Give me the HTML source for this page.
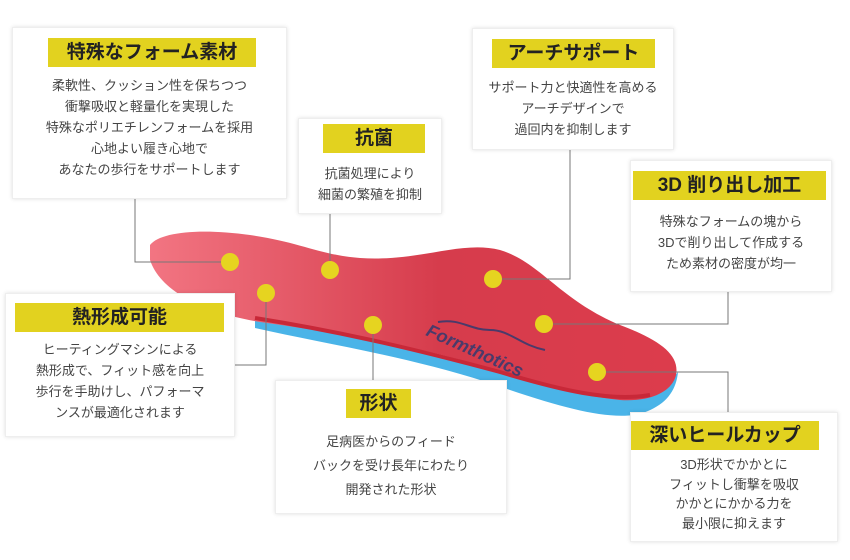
<!DOCTYPE html>
<html><head><meta charset="utf-8"><style>
body{margin:0;width:850px;height:560px;background:#fff;position:relative;overflow:hidden;font-family:"Liberation Sans","Noto Sans CJK JP",sans-serif;color:#333}
.card{position:absolute;background:#fff;border:1px solid #eee;box-shadow:0 0 4px rgba(0,0,0,0.12);text-align:center}
.lab{position:absolute;background:#e2d21f;font-weight:bold;font-size:19px;color:#222;text-align:center;line-height:29px;white-space:nowrap}
.txt{position:absolute;left:0;right:0;font-size:13px;line-height:21px;color:#444;white-space:nowrap}
svg{position:absolute;left:0;top:0}
</style></head><body>
<svg width="850" height="560">
<defs>
<linearGradient id="r" x1="0" y1="0" x2="1" y2="0"><stop offset="0" stop-color="#f27582"/><stop offset="0.55" stop-color="#d63c4c"/><stop offset="1" stop-color="#dc3c4c"/></linearGradient>
</defs>
<path d="M255,328 C330,345 420,358 510,390 C570,410 610,420 640,414 C665,406 676,392 678,372 L660,392 C620,404 580,396 500,372 C400,345 320,330 255,318Z" fill="#4ab4e8"/>
<path d="M150,245 C160,232 200,228 250,235 C300,242 320,255 360,258 C420,262 460,240 500,250 C540,262 560,300 620,325 C660,340 680,355 676,375 C672,392 650,402 620,400 C580,396 540,385 500,372 C420,345 330,332 260,322 C200,312 160,290 150,260Z" fill="url(#r)"/>
<path d="M255,318 C330,330 400,345 500,372 C560,390 610,402 650,395" stroke="#c82838" stroke-width="4" fill="none"/>
<path d="M438,322 C460,318 470,330 490,330 C510,330 520,345 545,350" stroke="#4a3a6a" stroke-width="2" fill="none"/>
<text x="425" y="335" transform="rotate(24 425 335)" font-family="Liberation Sans" font-weight="bold" font-style="italic" font-size="18" fill="#4a3a6a">Formthotics</text>
<g stroke="#777" stroke-width="1" fill="none">
<path d="M230,262H135V197"/><path d="M330,270V212"/><path d="M266,293V365H233"/>
<path d="M493,279H570V148"/><path d="M544,324H728V290"/><path d="M597,372H728V412"/><path d="M373,325V380"/>
</g>
<g fill="#e6d420">
<circle cx="230" cy="262" r="9"/><circle cx="330" cy="270" r="9"/><circle cx="266" cy="293" r="9"/>
<circle cx="493" cy="279" r="9"/><circle cx="544" cy="324" r="9"/><circle cx="597" cy="372" r="9"/><circle cx="373" cy="325" r="9"/>
</g>
</svg>

<div class="card" style="left:12px;top:27px;width:273px;height:170px">
<div class="lab" style="left:35px;top:10px;width:208px">特殊なフォーム素材</div>
<div class="txt" style="top:47px">柔軟性、クッション性を保ちつつ<br>衝撃吸収と軽量化を実現した<br>特殊なポリエチレンフォームを採用<br>心地よい履き心地で<br>あなたの歩行をサポートします</div></div>

<div class="card" style="left:298px;top:118px;width:142px;height:94px">
<div class="lab" style="left:24px;top:5px;width:102px">抗菌</div>
<div class="txt" style="top:44px">抗菌処理により<br>細菌の繁殖を抑制</div></div>

<div class="card" style="left:472px;top:28px;width:200px;height:120px">
<div class="lab" style="left:19px;top:10px;width:163px">アーチサポート</div>
<div class="txt" style="top:48px">サポート力と快適性を高める<br>アーチデザインで<br>過回内を抑制します</div></div>

<div class="card" style="left:630px;top:160px;width:200px;height:130px">
<div class="lab" style="left:2px;top:10px;width:193px">3D 削り出し加工</div>
<div class="txt" style="top:50px">特殊なフォームの塊から<br>3Dで削り出して作成する<br>ため素材の密度が均一</div></div>

<div class="card" style="left:5px;top:293px;width:228px;height:142px">
<div class="lab" style="left:9px;top:9px;width:209px">熱形成可能</div>
<div class="txt" style="top:45px">ヒーティングマシンによる<br>熱形成で、フィット感を向上<br>歩行を手助けし、パフォーマ<br>ンスが最適化されます</div></div>

<div class="card" style="left:275px;top:380px;width:230px;height:132px">
<div class="lab" style="left:70px;top:8px;width:65px">形状</div>
<div class="txt" style="top:49px;line-height:24px">足病医からのフィード<br>バックを受け長年にわたり<br>開発された形状</div></div>

<div class="card" style="left:630px;top:412px;width:206px;height:128px">
<div class="lab" style="left:0px;top:8px;width:188px">深いヒールカップ</div>
<div class="txt" style="top:42px;line-height:19.5px">3D形状でかかとに<br>フィットし衝撃を吸収<br>かかとにかかる力を<br>最小限に抑えます</div></div>
</body></html>
